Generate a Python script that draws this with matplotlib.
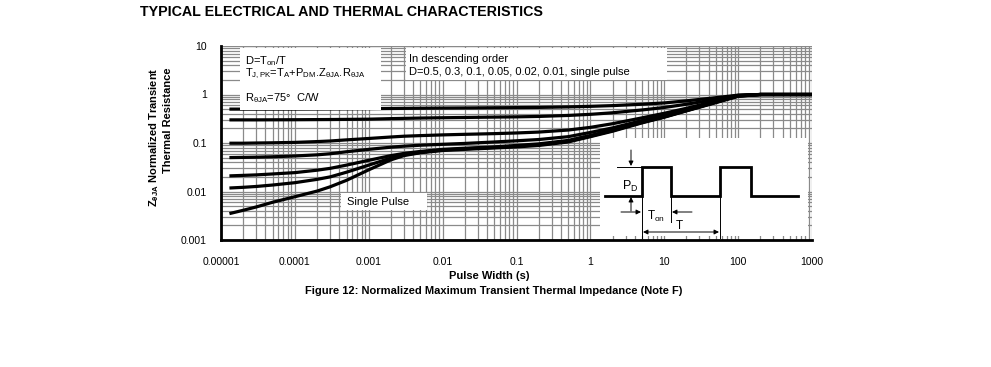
import numpy as np
import matplotlib
matplotlib.use('Agg')
import matplotlib.pyplot as plt
from matplotlib.ticker import LogLocator, NullFormatter
from matplotlib.patches import Rectangle

plt.rcParams['font.family'] = ['Liberation Sans', 'DejaVu Sans']
plt.rcParams['mathtext.fontset'] = 'custom'
plt.rcParams['mathtext.rm'] = 'Liberation Sans'
plt.rcParams['mathtext.it'] = 'Liberation Sans:italic'
plt.rcParams['mathtext.bf'] = 'Liberation Sans:bold'
plt.rcParams['mathtext.default'] = 'regular'

# pulse width (s)
pulse_width = [1.3e-5, 2e-5, 3e-5, 5e-5, 1e-4, 2e-4, 3e-4, 5e-4, 1e-3, 2e-3, 3e-3, 5e-3,
               1e-2, 2e-2, 5e-2, 0.1, 0.2, 0.5, 1, 2, 5, 10, 20, 50, 100, 200, 300, 1000]

# normalized transient thermal resistance
z_d05 = [0.50, 0.50, 0.50, 0.50, 0.501, 0.503, 0.504, 0.506, 0.51, 0.515, 0.518, 0.521,
         0.525, 0.528, 0.533, 0.537, 0.542, 0.555, 0.57, 0.59, 0.63, 0.67, 0.74, 0.86,
         0.97, 1.0, 1.0, 1.0]
z_d03 = [0.30, 0.30, 0.30, 0.301, 0.302, 0.304, 0.305, 0.307, 0.31, 0.318, 0.322, 0.327,
         0.332, 0.336, 0.342, 0.346, 0.353, 0.37, 0.39, 0.42, 0.48, 0.54, 0.63, 0.79,
         0.96, 1.0, 1.0, 1.0]
z_d01 = [0.099, 0.099, 0.100, 0.101, 0.103, 0.107, 0.110, 0.116, 0.124, 0.133, 0.138, 0.142,
         0.147, 0.151, 0.156, 0.161, 0.168, 0.185, 0.21, 0.25, 0.33, 0.41, 0.52, 0.73,
         0.95, 1.0, 1.0, 1.0]
z_d005 = [0.050, 0.0505, 0.051, 0.052, 0.054, 0.057, 0.060, 0.066, 0.074, 0.082, 0.086, 0.090,
          0.094, 0.098, 0.105, 0.111, 0.118, 0.135, 0.165, 0.205, 0.29, 0.37, 0.49, 0.71,
          0.94, 1.0, 1.0, 1.0]
z_d002 = [0.021, 0.0215, 0.022, 0.023, 0.0245, 0.0275, 0.030, 0.035, 0.044, 0.055, 0.061, 0.067,
          0.074, 0.078, 0.083, 0.089, 0.096, 0.113, 0.143, 0.185, 0.27, 0.35, 0.47, 0.70,
          0.93, 1.0, 1.0, 1.0]
z_d001 = [0.0118, 0.0122, 0.0127, 0.0136, 0.0152, 0.0178, 0.020, 0.025, 0.035, 0.049, 0.057,
          0.064, 0.072, 0.076, 0.081, 0.086, 0.092, 0.108, 0.138, 0.18, 0.265, 0.345, 0.465,
          0.69, 0.93, 1.0, 1.0, 1.0]
z_single = [0.0035, 0.0041, 0.0048, 0.0060, 0.0078, 0.0102, 0.0125, 0.017, 0.028, 0.045, 0.055,
            0.063, 0.070, 0.074, 0.079, 0.083, 0.089, 0.105, 0.135, 0.175, 0.26, 0.34, 0.46,
            0.68, 0.92, 1.0, 1.0, 1.0]

x_ticks = [1e-5, 1e-4, 1e-3, 1e-2, 1e-1, 1, 10, 100, 1000]
x_tick_labels = ['0.00001', '0.0001', '0.001', '0.01', '0.1', '1', '10', '100', '1000']
y_ticks = [0.001, 0.01, 0.1, 1, 10]
y_tick_labels = ['0.001', '0.01', '0.1', '1', '10']

W, H = 991, 367
fig = plt.figure(figsize=(W / 100, H / 100), dpi=100)

# main axes, placed in pixel terms
L, R, T, B = 221, 812, 46, 240
ax = fig.add_axes([L / W, 1 - B / H, (R - L) / W, (B - T) / H])
ax.set_xscale('log')
ax.set_yscale('log')
ax.set_xlim(1e-5, 1000)
ax.set_ylim(0.001, 10)

for z in [z_d05, z_d03, z_d01, z_d005, z_d002, z_d001, z_single]:
    ax.plot(pulse_width, z, color='black', lw=2.3, solid_capstyle='butt',
            solid_joinstyle='round', zorder=3)

ax.xaxis.set_major_locator(LogLocator(base=10, numticks=100))
ax.xaxis.set_minor_locator(LogLocator(base=10, subs=np.arange(2, 10), numticks=100))
ax.yaxis.set_major_locator(LogLocator(base=10, numticks=100))
ax.yaxis.set_minor_locator(LogLocator(base=10, subs=np.arange(2, 10), numticks=100))
ax.set_xticks(x_ticks)
ax.set_xticklabels(x_tick_labels)
ax.set_yticks(y_ticks)
ax.set_yticklabels(y_tick_labels)
ax.xaxis.set_minor_formatter(NullFormatter())
ax.yaxis.set_minor_formatter(NullFormatter())
ax.tick_params(which='both', length=0, labelsize=7.5)
ax.tick_params(axis='x', pad=12)
ax.tick_params(axis='y', pad=10)
ax.grid(True, which='both', color='#8a8a8a', lw=0.9)
for s in ['top', 'right']:
    ax.spines[s].set_visible(False)
for s in ['left', 'bottom']:
    ax.spines[s].set_linewidth(2)
    ax.spines[s].set_zorder(5)

# overlay in pixel coordinates for boxes, labels and the pulse sketch
ov = fig.add_axes([0, 0, 1, 1], zorder=3)
ov.set_xlim(0, W)
ov.set_ylim(H, 0)
ov.axis('off')
ov.patch.set_alpha(0)

def box(x0, y0, x1, y1):
    ov.add_patch(Rectangle((x0, y0), x1 - x0, y1 - y0, facecolor='white', edgecolor='none'))

box(240, 48, 381, 110)
ov.text(245, 61, 'D=T$_{on}$/T', fontsize=8, va='center')
ov.text(245, 74, 'T$_{J,PK}$=T$_A$+P$_{DM}$.Z$_{θJA}$.R$_{θJA}$', fontsize=8, va='center')
ov.text(245, 98, 'R$_{θJA}$=75°  C/W', fontsize=8, va='center')

box(406, 48, 667, 80)
ov.text(409, 59, 'In descending order', fontsize=8, va='center')
ov.text(409, 72, 'D=0.5, 0.3, 0.1, 0.05, 0.02, 0.01, single pulse', fontsize=8, va='center')

box(341, 193, 427, 210)
ov.text(347, 202, 'Single Pulse', fontsize=8, va='center')

# pulse train sketch
box(600, 138, 808, 236)
ov.plot([605, 642, 642, 671, 671, 720, 720, 751, 751, 798],
        [196, 196, 167, 167, 196, 196, 167, 167, 196, 196],
        color='black', lw=2, solid_joinstyle='miter')
ov.plot([617, 642], [167, 167], color='black', lw=0.7)
ov.plot([642, 642], [196, 238], color='black', lw=0.7)
ov.plot([671, 671], [196, 222], color='black', lw=0.7)
ov.plot([720, 720], [196, 238], color='black', lw=0.7)
arrow = dict(arrowstyle='-|>', color='black', lw=0.7, mutation_scale=7, shrinkA=0, shrinkB=0)
ov.annotate('', xy=(631, 166), xytext=(631, 150), arrowprops=arrow)
ov.annotate('', xy=(631, 197), xytext=(631, 211), arrowprops=arrow)
ov.annotate('', xy=(641, 212), xytext=(621, 212), arrowprops=arrow)
ov.annotate('', xy=(672, 212), xytext=(692, 212), arrowprops=arrow)
ov.annotate('', xy=(643, 232), xytext=(719, 232),
            arrowprops=dict(arrowstyle='<|-|>', color='black', lw=0.7, mutation_scale=7,
                            shrinkA=0, shrinkB=0))
ov.text(630, 186, 'P$_D$', fontsize=9, ha='center', va='center')
ov.text(656, 216, 'T$_{on}$', fontsize=8.5, ha='center', va='center')
ov.text(679, 226, 'T', fontsize=8.5, ha='center', va='center')

# titles and axis labels
ov.text(140, 12, 'TYPICAL ELECTRICAL AND THERMAL CHARACTERISTICS', fontsize=10.3,
        fontweight='bold', va='center')
ov.text(489, 276, 'Pulse Width (s)', fontsize=8, fontweight='bold', ha='center', va='center')
ov.text(494, 291, 'Figure 12: Normalized Maximum Transient Thermal Impedance (Note F)',
        fontsize=8, fontweight='bold', ha='center', va='center')
ov.text(154, 137, r'$\mathbf{Z_{θJA}}$ Normalized Transient', fontsize=8, fontweight='bold',
        rotation=90, ha='center', va='center')
ov.text(168, 120, 'Thermal Resistance', fontsize=8, fontweight='bold',
        rotation=90, ha='center', va='center')

fig.savefig('out.png', dpi=100)
